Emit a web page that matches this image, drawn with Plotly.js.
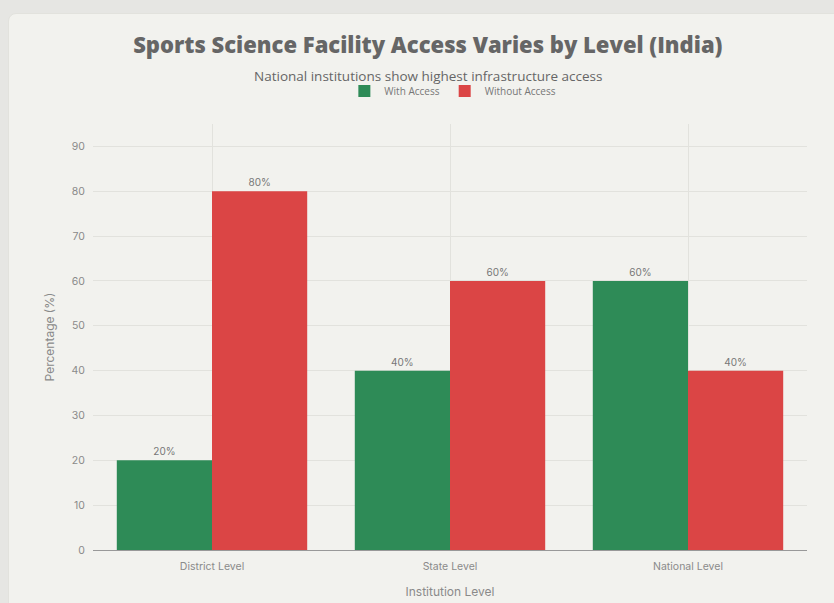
<!DOCTYPE html>
<html>
<head>
<meta charset="utf-8">
<script src="https://cdn.plot.ly/plotly-3.0.1.min.js"></script>
<style>
  html, body { margin:0; padding:0; width:834px; height:603px; overflow:hidden; background:#e6e6e3; }
  #card { position:absolute; left:8px; top:13px; width:840px; height:610px; background:#f2f2ee; border-radius:8px; border:1px solid #e2e2dd; }
  #chart { position:absolute; left:0; top:0; width:834px; height:603px; }
</style>
</head>
<body>
<div id="card"></div>
<div id="chart"></div>
<script>
const categories = ["District Level", "State Level", "National Level"];
const withAccess = [20, 40, 60];
const withoutAccess = [80, 60, 40];
const seriesNames = ["With Access", "Without Access"];

const tickFont = {family: "Inter, 'Open Sans', sans-serif", size: 10.5, color: "#8a8a8a"};

const traces = [
  {
    type: "bar", name: seriesNames[0], x: categories, y: withAccess,
    marker: {color: "#2E8B57"},
    text: withAccess.map(v => v + "%"), textposition: "outside",
    textfont: {family: "Inter, sans-serif", size: 10, color: "#777"},
    cliponaxis: false
  },
  {
    type: "bar", name: seriesNames[1], x: categories, y: withoutAccess,
    marker: {color: "#DB4545"},
    text: withoutAccess.map(v => v + "%"), textposition: "outside",
    textfont: {family: "Inter, sans-serif", size: 10, color: "#777"},
    cliponaxis: false
  }
];

const layout = {
  width: 834, height: 603,
  paper_bgcolor: "rgba(0,0,0,0)", plot_bgcolor: "rgba(0,0,0,0)",
  margin: {l: 93, r: 27, t: 124, b: 53},
  barmode: "group", bargap: 0.2, bargroupgap: 0,
  title: {
    text: "Sports Science Facility Access Varies by Level (India)",
    font: {family: "'Open Sans', sans-serif", size: 22, color: "#666", weight: 800},
    x: 0.513, xanchor: "center", y: 1 - 45/603, yanchor: "middle"
  },
  annotations: [{
    text: "National institutions show highest infrastructure access",
    xref: "paper", yref: "paper", x: (428 - 93) / 714, y: (550 - 76) / 426,
    xanchor: "center", yanchor: "middle", showarrow: false,
    font: {family: "'Open Sans', sans-serif", size: 13.5, color: "#666"}
  }],
  legend: {
    orientation: "h", x: 0.504, xanchor: "center", y: (550 - 91) / 426, yanchor: "middle",
    font: {family: "'Open Sans', sans-serif", size: 10, color: "#777"},
    bgcolor: "rgba(0,0,0,0)", itemwidth: 30
  },
  xaxis: {
    type: "category",
    showgrid: true, gridcolor: "#e2e2dd", gridwidth: 1,
    showline: false, ticks: "outside", ticklen: 6, tickcolor: "rgba(0,0,0,0)",
    tickfont: tickFont,
    title: {text: "Institution Level", font: {family: "Inter, sans-serif", size: 12, color: "#8a8a8a"}, standoff: 16}
  },
  yaxis: {
    range: [0, 95],
    dtick: 10, tick0: 0,
    showgrid: true, gridcolor: "#e2e2dd", gridwidth: 1,
    zeroline: true, zerolinecolor: "#999", zerolinewidth: 1,
    ticks: "outside", ticklen: 5, tickcolor: "rgba(0,0,0,0)",
    tickfont: tickFont,
    title: {text: "Percentage (%)", font: {family: "Inter, sans-serif", size: 12, color: "#8a8a8a"}, standoff: 14}
  },
  showlegend: true
};

Plotly.newPlot("chart", traces, layout, {displayModeBar: false, staticPlot: true});
</script>
</body>
</html>
